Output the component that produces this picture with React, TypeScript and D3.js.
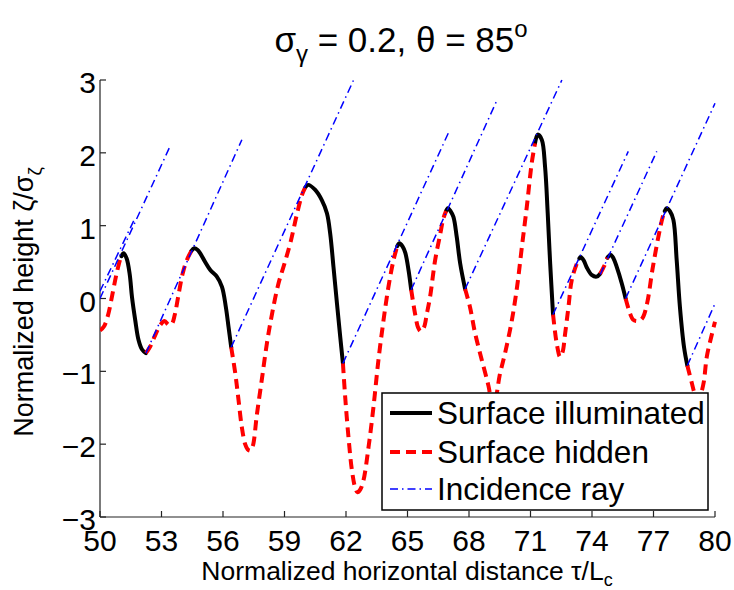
import React from "react";
import * as d3 from "d3";

// ---------- data ----------
const xTicks = [50, 53, 56, 59, 62, 65, 68, 71, 74, 77, 80];
const yTicks = [-3, -2, -1, 0, 1, 2, 3];

// surface profile (x, height) and illumination state of the segment starting at each point (1 = lit, 0 = hidden)
const surfaceX = [
  50.0, 50.2, 50.4, 50.6, 50.8, 51.0, 51.05,
  51.15, 51.3, 51.45, 51.56, 51.72, 51.88, 52.05, 52.24,
  52.45, 52.7, 52.95, 53.15, 53.35, 53.5, 53.65, 53.83, 54.03, 54.24, 54.45,
  54.6, 54.75, 54.89, 55.13, 55.38, 55.7, 55.95, 56.14, 56.27, 56.4,
  56.6, 56.76, 56.92, 57.08, 57.2, 57.33, 57.45, 57.65, 57.9, 58.15, 58.4, 58.7, 59.0, 59.3, 59.6, 59.85, 60.0,
  60.15, 60.5, 60.82, 61.07, 61.23, 61.39, 61.56, 61.72, 61.85,
  61.96, 62.12, 62.29, 62.45, 62.56, 62.7, 62.85, 63.1, 63.34, 63.58, 63.83, 64.07, 64.32, 64.5,
  64.61, 64.75, 64.89, 65.05, 65.18,
  65.37, 65.52, 65.65, 65.8, 65.95, 66.1, 66.35, 66.6, 66.75, 66.88,
  66.97, 67.1, 67.24, 67.4, 67.57, 67.81,
  68.05, 68.3, 68.63, 68.95, 69.1, 69.2, 69.32, 69.5, 69.76, 70.09, 70.35, 70.58, 70.82, 71.06, 71.22,
  71.35, 71.55, 71.71, 71.84, 71.96, 72.1,
  72.28, 72.44, 72.56, 72.69, 72.85, 73.01, 73.26, 73.38,
  73.45, 73.6, 73.74, 74.0, 74.23, 74.4,
  74.6, 74.75,
  74.91, 75.05, 75.21, 75.45, 75.64,
  75.86, 76.0, 76.15, 76.35, 76.5, 76.7, 76.95, 77.24, 77.45, 77.55,
  77.65, 77.8, 77.97, 78.13, 78.29, 78.49, 78.65,
  78.86, 79.0, 79.15, 79.3, 79.45, 79.6, 79.84, 80.0,
];
const surfaceY = [
  -0.44, -0.38, -0.22, 0.05, 0.33, 0.55, 0.58,
  0.62, 0.55, 0.33, 0.02, -0.3, -0.57, -0.7, -0.75,
  -0.66, -0.5, -0.36, -0.31, -0.36, -0.35, -0.22, 0.05, 0.34, 0.53, 0.65,
  0.69, 0.67, 0.62, 0.5, 0.39, 0.3, 0.16, -0.12, -0.39, -0.67,
  -1.03, -1.4, -1.77, -2.0, -2.07, -2.09, -2.03, -1.6, -1.1, -0.6, -0.2, 0.2, 0.48, 0.78, 1.15, 1.42, 1.52,
  1.56, 1.49, 1.35, 1.17, 0.89, 0.43, -0.07, -0.53, -0.89,
  -1.35, -1.9, -2.36, -2.6, -2.66, -2.62, -2.5, -2.04, -1.49, -0.85, -0.3, 0.16, 0.53, 0.72,
  0.76, 0.72, 0.63, 0.39, 0.12,
  -0.21, -0.4, -0.45, -0.4, -0.2, 0.02, 0.53, 0.89, 1.1, 1.2,
  1.24, 1.2, 1.12, 0.85, 0.48, 0.13,
  -0.12, -0.48, -0.85, -1.2, -1.42, -1.48, -1.36, -1.05, -0.75, -0.3, 0.17, 0.71, 1.26, 1.86, 2.13,
  2.25, 2.18, 1.81, 1.17, 0.48, -0.22,
  -0.62, -0.8, -0.74, -0.48, -0.12, 0.25, 0.48, 0.55,
  0.57, 0.52, 0.43, 0.32, 0.3, 0.34,
  0.45, 0.56,
  0.6, 0.55, 0.43, 0.21, 0.0,
  -0.21, -0.29, -0.31, -0.3, -0.25, -0.05, 0.4, 0.85, 1.12, 1.2,
  1.24, 1.2, 1.08, 0.53, -0.12, -0.67, -0.92,
  -1.15, -1.3, -1.4, -1.32, -1.15, -0.8, -0.5, -0.32,
];
const surfaceLit = [
  0, 0, 0, 0, 0, 0, 1,
  1, 1, 1, 1, 1, 1, 1, 0,
  0, 0, 0, 0, 0, 0, 0, 0, 0, 0, 1,
  1, 1, 1, 1, 1, 1, 1, 1, 1, 0,
  0, 0, 0, 0, 0, 0, 0, 0, 0, 0, 0, 0, 0, 0, 0, 0, 1,
  1, 1, 1, 1, 1, 1, 1, 1, 0,
  0, 0, 0, 0, 0, 0, 0, 0, 0, 0, 0, 0, 0, 1,
  1, 1, 1, 1, 0,
  0, 0, 0, 0, 0, 0, 0, 0, 0, 1,
  1, 1, 1, 1, 1, 0,
  0, 0, 0, 0, 0, 0, 0, 0, 0, 0, 0, 0, 0, 0, 1,
  1, 1, 1, 1, 1, 0,
  0, 0, 0, 0, 0, 0, 0, 1,
  1, 1, 1, 1, 1, 0,
  0, 1,
  1, 1, 1, 1, 0,
  0, 0, 0, 0, 0, 0, 0, 0, 0, 1,
  1, 1, 1, 1, 1, 1, 0,
  0, 0, 0, 0, 0, 0, 0, 0,
];

// incidence rays: start and end points
const rayX1 = [50.0, 50.0, 52.24, 56.4, 61.85, 65.18, 67.81, 72.1, 74.4, 75.64, 78.65];
const rayY1 = [0.0, 0.1, -0.75, -0.67, -0.89, 0.12, 0.13, -0.22, 0.33, 0.0, -0.92];
const rayX2 = [53.45, 51.7, 56.92, 62.37, 66.99, 69.36, 72.53, 75.77, 77.16, 80.0, 80.0];
const rayY2 = [2.11, 1.1, 2.18, 3.0, 2.27, 2.72, 3.0, 2.02, 2.02, 2.68, -0.07];

const legendLabels = ["Surface illuminated", "Surface hidden", "Incidence ray"];

// ---------- layout ----------
const W = 734;
const H = 590;
const L = 100;
const R = 715;
const T = 80;
const B = 517;
const FONT = "'Liberation Sans', Arial, Helvetica, sans-serif";

export default function App() {
  const x = d3.scaleLinear().domain([50, 80]).range([L, R]);
  const y = d3.scaleLinear().domain([-3, 3]).range([B, T]);

  type Pt = [number, number];
  const segments: { lit: number; pts: Pt[] }[] = [];
  let cur: { lit: number; pts: Pt[] } | null = null;
  for (let i = 0; i < surfaceX.length - 1; i++) {
    const s = surfaceLit[i];
    if (!cur || cur.lit !== s) {
      cur = { lit: s, pts: [[surfaceX[i], surfaceY[i]]] };
      segments.push(cur);
    }
    cur.pts.push([surfaceX[i + 1], surfaceY[i + 1]]);
  }

  const line = d3
    .line<Pt>()
    .x((d) => x(d[0]))
    .y((d) => y(d[1]))
    .curve(d3.curveCatmullRom.alpha(0.5));

  const rays = rayX1.map((_, i) => ({
    x1: x(rayX1[i]),
    y1: y(rayY1[i]),
    x2: x(rayX2[i]),
    y2: y(rayY2[i]),
  }));

  const legX = 382, legY = 393, legW = 326, legH = 117;
  const legRows = [413, 452, 489];

  return (
    <svg
      width={W}
      height={H}
      style={{ position: "absolute", left: 0, top: 0, background: "#fff" }}
      fontFamily={FONT}
    >
      <rect x={0} y={0} width={W} height={H} fill="#fff" />
      <defs>
        <clipPath id="plotclip">
          <rect x={L} y={T - 2} width={R - L + 2} height={B - T + 4} />
        </clipPath>
      </defs>

      {/* axes */}
      <line x1={L} y1={T} x2={L} y2={B} stroke="#222" strokeWidth={1.2} />
      <line x1={L} y1={B} x2={R} y2={B} stroke="#222" strokeWidth={1.2} />
      {xTicks.map((t) => (
        <g key={"xt" + t}>
          <line x1={x(t)} x2={x(t)} y1={B} y2={B - 6} stroke="#222" strokeWidth={1.2} />
          <text x={x(t)} y={551} fontSize={30} textAnchor="middle" fill="#000">
            {t}
          </text>
        </g>
      ))}
      {yTicks.map((t) => (
        <g key={"yt" + t}>
          <line x1={L} x2={L + 6} y1={y(t)} y2={y(t)} stroke="#222" strokeWidth={1.2} />
          <text x={96} y={y(t) + 13} fontSize={30} textAnchor="end" fill="#000">
            {t < 0 ? "\u2212" + Math.abs(t) : t}
          </text>
        </g>
      ))}

      {/* data */}
      <g clipPath="url(#plotclip)">
        {segments
          .filter((s) => s.lit === 1)
          .map((s, i) => (
            <path key={"lit" + i} d={line(s.pts) || ""} fill="none" stroke="#000" strokeWidth={4} strokeLinejoin="round" strokeLinecap="round" />
          ))}
        {segments
          .filter((s) => s.lit === 0)
          .map((s, i) => (
            <path key={"hid" + i} d={line(s.pts) || ""} fill="none" stroke="#ff0000" strokeWidth={4} strokeDasharray="10,6" />
          ))}
        {rays.map((r, i) => (
          <line key={"ray" + i} x1={r.x1} y1={r.y1} x2={r.x2} y2={r.y2} stroke="#0000ff" strokeWidth={1.5} strokeDasharray="8,4,1.5,4" />
        ))}
      </g>

      {/* legend */}
      <rect x={legX} y={legY} width={legW} height={legH} fill="#fff" stroke="#000" strokeWidth={1.5} />
      <line x1={390} x2={432} y1={legRows[0]} y2={legRows[0]} stroke="#000" strokeWidth={4} />
      <line x1={390} x2={432} y1={legRows[1]} y2={legRows[1]} stroke="#ff0000" strokeWidth={4} strokeDasharray="10,6" />
      <line x1={390} x2={432} y1={legRows[2]} y2={legRows[2]} stroke="#0000ff" strokeWidth={1.5} strokeDasharray="8,4,1.5,4" />
      {legendLabels.map((lab, i) => (
        <text key={lab} x={437} y={legRows[i] + 11} fontSize={31.5} fill="#000">
          {lab}
        </text>
      ))}

      {/* title */}
      <text x={401} y={52} fontSize={35} textAnchor="middle" fill="#000">
        <tspan>σ</tspan>
        <tspan fontSize={24} dy={10}>γ</tspan>
        <tspan dy={-10}>{" = 0.2, θ = 85"}</tspan>
        <tspan fontSize={24} dy={-15}>o</tspan>
      </text>

      {/* x label */}
      <text x={407} y={580} fontSize={26.5} textAnchor="middle" fill="#000">
        <tspan>Normalized horizontal distance τ/L</tspan>
        <tspan fontSize={18} dy={6}>c</tspan>
      </text>

      {/* y label */}
      <text transform="translate(33,302) rotate(-90)" fontSize={27} textAnchor="middle" fill="#000">
        <tspan>Normalized height ζ/σ</tspan>
        <tspan fontSize={19} dy={8}>ζ</tspan>
      </text>
    </svg>
  );
}
